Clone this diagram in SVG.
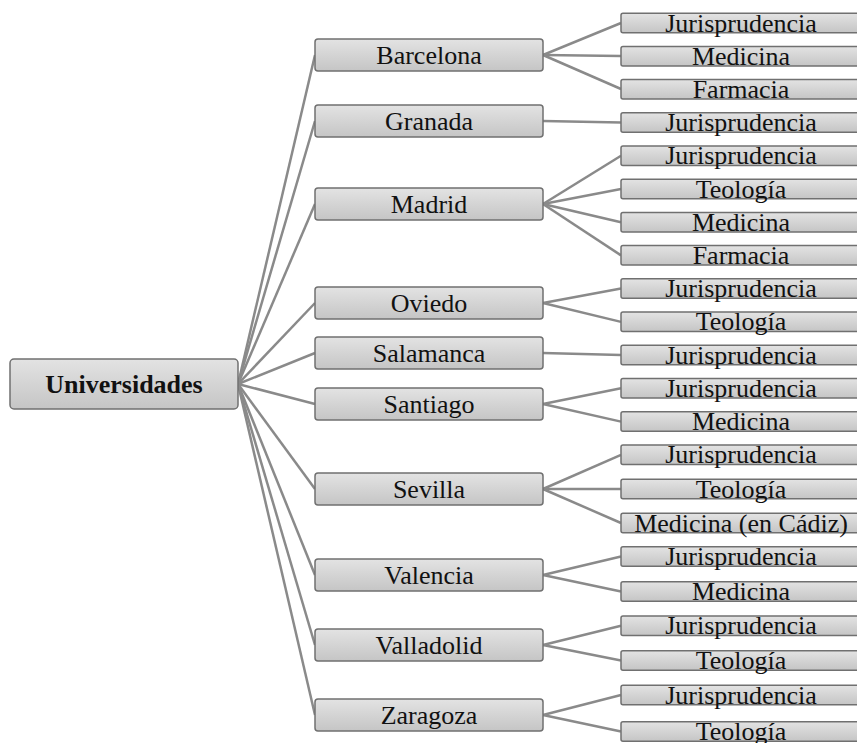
<svg xmlns="http://www.w3.org/2000/svg" width="857" height="743" viewBox="0 0 857 743">
<defs>
<linearGradient id="g" x1="0" y1="0" x2="0" y2="1">
<stop offset="0" stop-color="#e3e3e3"/>
<stop offset="1" stop-color="#c5c5c5"/>
</linearGradient>
<style>
.box{fill:url(#g);stroke:#707070;stroke-width:1.5}
.t{font-family:"Liberation Serif","Times New Roman",serif;font-size:26px;fill:#111;text-anchor:middle}
.b{font-weight:bold}
#connectors line{stroke:#8a8a8a;stroke-width:2.5;fill:none}
</style>
</defs>
<rect width="857" height="743" fill="#fff"/>
<g id="connectors">
<line x1="238" y1="384" x2="315" y2="55"/>
<line x1="238" y1="384" x2="315" y2="121"/>
<line x1="238" y1="384" x2="315" y2="204"/>
<line x1="238" y1="384" x2="315" y2="303"/>
<line x1="238" y1="384" x2="315" y2="353"/>
<line x1="238" y1="384" x2="315" y2="404"/>
<line x1="238" y1="384" x2="315" y2="489"/>
<line x1="238" y1="384" x2="315" y2="575"/>
<line x1="238" y1="384" x2="315" y2="645"/>
<line x1="238" y1="384" x2="315" y2="715"/>
<line x1="543" y1="55" x2="621" y2="23"/>
<line x1="543" y1="55" x2="621" y2="56"/>
<line x1="543" y1="55" x2="621" y2="89"/>
<line x1="543" y1="121" x2="621" y2="122.5"/>
<line x1="543" y1="204" x2="621" y2="155.7"/>
<line x1="543" y1="204" x2="621" y2="189"/>
<line x1="543" y1="204" x2="621" y2="222.2"/>
<line x1="543" y1="204" x2="621" y2="255.4"/>
<line x1="543" y1="303" x2="621" y2="288.6"/>
<line x1="543" y1="303" x2="621" y2="321.9"/>
<line x1="543" y1="353" x2="621" y2="355"/>
<line x1="543" y1="404" x2="621" y2="388.3"/>
<line x1="543" y1="404" x2="621" y2="421.6"/>
<line x1="543" y1="489" x2="621" y2="454.8"/>
<line x1="543" y1="489" x2="621" y2="489"/>
<line x1="543" y1="489" x2="621" y2="523"/>
<line x1="543" y1="575" x2="621" y2="556.5"/>
<line x1="543" y1="575" x2="621" y2="591.5"/>
<line x1="543" y1="645" x2="621" y2="625.8"/>
<line x1="543" y1="645" x2="621" y2="660.5"/>
<line x1="543" y1="715" x2="621" y2="695"/>
<line x1="543" y1="715" x2="621" y2="731.5"/>
</g>
<g id="root"><rect class="box" x="10" y="359" width="228" height="50" rx="4"/><text class="t b" x="124" y="393">Universidades</text></g>
<g id="barcelona"><rect class="box" x="315" y="39" width="228" height="32" rx="3"/><text class="t" x="429" y="64">Barcelona</text></g>
<g id="granada"><rect class="box" x="315" y="105" width="228" height="32" rx="3"/><text class="t" x="429" y="130">Granada</text></g>
<g id="madrid"><rect class="box" x="315" y="188" width="228" height="32" rx="3"/><text class="t" x="429" y="213">Madrid</text></g>
<g id="oviedo"><rect class="box" x="315" y="287" width="228" height="32" rx="3"/><text class="t" x="429" y="312">Oviedo</text></g>
<g id="salamanca"><rect class="box" x="315" y="337" width="228" height="32" rx="3"/><text class="t" x="429" y="362">Salamanca</text></g>
<g id="santiago"><rect class="box" x="315" y="388" width="228" height="32" rx="3"/><text class="t" x="429" y="413">Santiago</text></g>
<g id="sevilla"><rect class="box" x="315" y="473" width="228" height="32" rx="3"/><text class="t" x="429" y="498">Sevilla</text></g>
<g id="valencia"><rect class="box" x="315" y="559" width="228" height="32" rx="3"/><text class="t" x="429" y="584">Valencia</text></g>
<g id="valladolid"><rect class="box" x="315" y="629" width="228" height="32" rx="3"/><text class="t" x="429" y="654">Valladolid</text></g>
<g id="zaragoza"><rect class="box" x="315" y="699" width="228" height="32" rx="3"/><text class="t" x="429" y="724">Zaragoza</text></g>
<g id="barcelona-jur"><rect class="box" x="621" y="13.3" width="245" height="19.5" rx="2"/><text class="t" x="741" y="31.6">Jurisprudencia</text></g>
<g id="barcelona-med"><rect class="box" x="621" y="46.5" width="245" height="19.5" rx="2"/><text class="t" x="741" y="64.8">Medicina</text></g>
<g id="barcelona-far"><rect class="box" x="621" y="79.5" width="245" height="19.5" rx="2"/><text class="t" x="741" y="97.8">Farmacia</text></g>
<g id="granada-jur"><rect class="box" x="621" y="112.7" width="245" height="19.5" rx="2"/><text class="t" x="741" y="131">Jurisprudencia</text></g>
<g id="madrid-jur"><rect class="box" x="621" y="145.9" width="245" height="19.5" rx="2"/><text class="t" x="741" y="164.2">Jurisprudencia</text></g>
<g id="madrid-teo"><rect class="box" x="621" y="179.2" width="245" height="19.5" rx="2"/><text class="t" x="741" y="197.5">Teología</text></g>
<g id="madrid-med"><rect class="box" x="621" y="212.4" width="245" height="19.5" rx="2"/><text class="t" x="741" y="230.7">Medicina</text></g>
<g id="madrid-far"><rect class="box" x="621" y="245.6" width="245" height="19.5" rx="2"/><text class="t" x="741" y="263.9">Farmacia</text></g>
<g id="oviedo-jur"><rect class="box" x="621" y="278.8" width="245" height="19.5" rx="2"/><text class="t" x="741" y="297.1">Jurisprudencia</text></g>
<g id="oviedo-teo"><rect class="box" x="621" y="312.1" width="245" height="19.5" rx="2"/><text class="t" x="741" y="330.4">Teología</text></g>
<g id="salamanca-jur"><rect class="box" x="621" y="345.3" width="245" height="19.5" rx="2"/><text class="t" x="741" y="363.6">Jurisprudencia</text></g>
<g id="santiago-jur"><rect class="box" x="621" y="378.5" width="245" height="19.5" rx="2"/><text class="t" x="741" y="396.8">Jurisprudencia</text></g>
<g id="santiago-med"><rect class="box" x="621" y="411.8" width="245" height="19.5" rx="2"/><text class="t" x="741" y="430.1">Medicina</text></g>
<g id="sevilla-jur"><rect class="box" x="621" y="445" width="245" height="19.5" rx="2"/><text class="t" x="741" y="463.3">Jurisprudencia</text></g>
<g id="sevilla-teo"><rect class="box" x="621" y="479.3" width="245" height="19.5" rx="2"/><text class="t" x="741" y="497.6">Teología</text></g>
<g id="sevilla-med"><rect class="box" x="621" y="513.3" width="245" height="19.5" rx="2"/><text class="t" x="741" y="531.6">Medicina (en Cádiz)</text></g>
<g id="valencia-jur"><rect class="box" x="621" y="546.7" width="245" height="19.5" rx="2"/><text class="t" x="741" y="565">Jurisprudencia</text></g>
<g id="valencia-med"><rect class="box" x="621" y="581.7" width="245" height="19.5" rx="2"/><text class="t" x="741" y="600">Medicina</text></g>
<g id="valladolid-jur"><rect class="box" x="621" y="616" width="245" height="19.5" rx="2"/><text class="t" x="741" y="634.3">Jurisprudencia</text></g>
<g id="valladolid-teo"><rect class="box" x="621" y="650.7" width="245" height="19.5" rx="2"/><text class="t" x="741" y="669">Teología</text></g>
<g id="zaragoza-jur"><rect class="box" x="621" y="685.3" width="245" height="19.5" rx="2"/><text class="t" x="741" y="703.6">Jurisprudencia</text></g>
<g id="zaragoza-teo"><rect class="box" x="621" y="721.7" width="245" height="19.5" rx="2"/><text class="t" x="741" y="740">Teología</text></g>
</svg>
